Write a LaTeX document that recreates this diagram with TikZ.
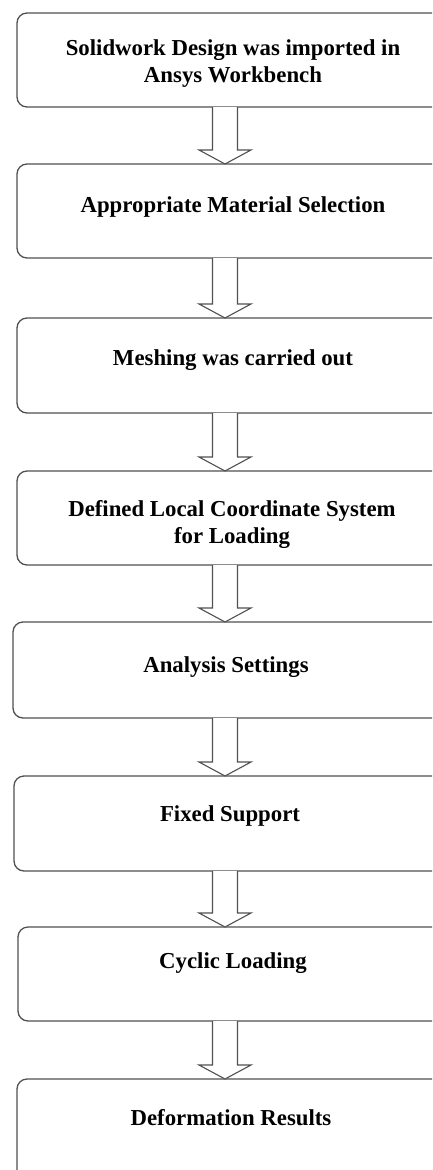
\documentclass[tikz,border=0pt]{standalone}
\usepackage{fontspec}
\setmainfont{Liberation Serif}
\begin{document}
\begin{tikzpicture}[x=1pt,y=-1pt,
  box/.style={draw=boxgray, line width=1.3pt, rounded corners=10pt, rectangle,
    anchor=north west, inner sep=0pt, outer sep=0pt, minimum width=#1},
  box/.default=438pt,
  lbl/.style={font=\fontsize{22.8}{27}\selectfont\bfseries, inner sep=0pt, anchor=base, align=center},
  blockarr/.style={draw=boxgray, line width=1.1pt, fill=white, line join=miter}
]
\definecolor{boxgray}{HTML}{505050}
\clip (0,0) rectangle (432,1170);
\fill[white] (0,0) rectangle (432,1170);
% arrow axis
\coordinate (ax) at (225,0);
% boxes
\node[box, minimum height=94pt] (b1) at (17,13) {};
\node[box, minimum height=94pt] (b2) at (17,164) {};
\node[box, minimum height=95pt] (b3) at (17,318) {};
\node[box, minimum height=94pt] (b4) at (17,471) {};
\node[box=442pt, minimum height=96pt] (b5) at (13,622) {};
\node[box=441pt, minimum height=95pt] (b6) at (14,776) {};
\node[box=437pt, minimum height=94pt] (b7) at (18,927) {};
\node[box, minimum height=121pt] (b8) at (17,1079) {};
% labels
\node[lbl] (t1a) at (233,55) {Solidwork Design was imported in};
\node[lbl] (t1b) at (233,82) {Ansys Workbench};
\node[lbl] (t2) at (233,212) {Appropriate Material Selection};
\node[lbl] (t3) at (233,365) {Meshing was carried out};
\node[lbl] (t4a) at (232,516) {Defined Local Coordinate System};
\node[lbl] (t4b) at (232,543) {for Loading};
\node[lbl] (t5) at (226,672) {Analysis Settings};
\node[lbl] (t6) at (230,821) {Fixed Support};
\node[lbl] (t7) at (233,968) {Cyclic Loading};
\node[lbl] (t8) at (231,1125) {Deformation Results};
% block arrows
\foreach \a/\b in {b1/b2, b2/b3, b3/b4, b4/b5, b5/b6, b6/b7, b7/b8}{
  \coordinate (s) at (\a.south -| ax);
  \coordinate (e) at (\b.north -| ax);
  \draw[blockarr] ([xshift=-12.5pt]s) -- ([xshift=-12.5pt,yshift=14pt]e)
    -- ([xshift=-26pt,yshift=14pt]e) -- (e) -- ([xshift=26pt,yshift=14pt]e)
    -- ([xshift=12.5pt,yshift=14pt]e) -- ([xshift=12.5pt]s);
}
\end{tikzpicture}
\end{document}
